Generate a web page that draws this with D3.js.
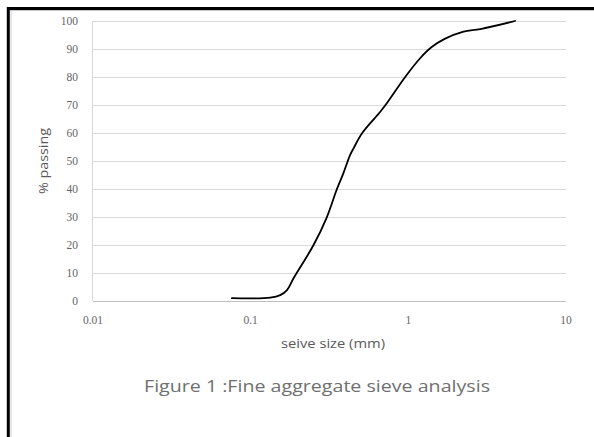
<!DOCTYPE html>
<html>
<head>
<meta charset="utf-8">
<script src="https://cdn.jsdelivr.net/npm/d3@7"></script>
<style>
  html, body { margin: 0; padding: 0; background: #fff; }
  svg { display: block; }
</style>
</head>
<body>
<div id="chart"></div>
<script>
// sieve size (mm) vs % passing
const sieveSizes = [0.076, 0.133, 0.154, 0.170, 0.187, 0.250, 0.304, 0.352, 0.387, 0.427, 0.449, 0.51, 0.662, 0.73, 0.955, 1.188, 1.40, 1.70, 2.24, 2.86, 4.75];
const passing    = [1.0,   1.2,   2.1,   3.9,   8.1,   19.9,  29.9,  39.9,  45.6,  52.1,  54.5,  60,   67.5,  70.6, 80,    86.7,  90.6, 93.6, 96.2, 97.1, 100];
const xTicks = [0.01, 0.1, 1, 10];
const yTicks = [0, 10, 20, 30, 40, 50, 60, 70, 80, 90, 100];

const W = 594, H = 437;
const plot = { left: 93, right: 566, top: 21, bottom: 301 };

const svg = d3.select("#chart").append("svg")
  .attr("width", W).attr("height", H);

// frame like the cropped document page
svg.append("line").attr("x1", 7).attr("x2", W).attr("y1", 8.5).attr("y2", 8.5)
  .attr("stroke", "#000").attr("stroke-width", 3);
svg.append("line").attr("x1", 8.3).attr("x2", 8.3).attr("y1", 7).attr("y2", H)
  .attr("stroke", "#000").attr("stroke-width", 3);
svg.append("line").attr("x1", 11).attr("x2", 11).attr("y1", 10).attr("y2", H)
  .attr("stroke", "#c7cfdc").attr("stroke-width", 1);
svg.append("line").attr("x1", 10).attr("x2", W).attr("y1", 10.5).attr("y2", 10.5)
  .attr("stroke", "#c8c8c8").attr("stroke-width", 1);

const x = d3.scaleLog().domain([0.01, 10]).range([plot.left, plot.right]);
const y = d3.scaleLinear().domain([0, 100]).range([plot.bottom, plot.top]);

// horizontal gridlines
svg.append("g").selectAll("line").data(yTicks.filter(d => d > 0)).join("line")
  .attr("x1", plot.left).attr("x2", plot.right)
  .attr("y1", d => Math.round(y(d)) + 0.5).attr("y2", d => Math.round(y(d)) + 0.5)
  .attr("stroke", "#d9d9d9").attr("stroke-width", 1);

// axis lines
svg.append("line").attr("x1", plot.left).attr("x2", plot.right)
  .attr("y1", plot.bottom + 0.5).attr("y2", plot.bottom + 0.5)
  .attr("stroke", "#bfbfbf");
svg.append("line").attr("x1", plot.left - 0.5).attr("x2", plot.left - 0.5)
  .attr("y1", plot.top).attr("y2", plot.bottom)
  .attr("stroke", "#d9d9d9");

// tick labels
const tickFont = "'Liberation Serif', 'DejaVu Serif', serif";
svg.append("g").selectAll("text").data(yTicks).join("text")
  .attr("x", 78).attr("y", d => y(d)).attr("dy", "0.35em")
  .attr("text-anchor", "end")
  .attr("font-family", tickFont).attr("font-size", 11.5)
  .attr("fill", "#666")
  .text(d => d);

svg.append("g").selectAll("text").data(xTicks).join("text")
  .attr("x", d => x(d)).attr("y", 324)
  .attr("text-anchor", "middle")
  .attr("font-family", tickFont).attr("font-size", 11.5)
  .attr("fill", "#666")
  .text(d => d3.format("~g")(d));

// axis titles
const sans = "'Open Sans', 'Noto Sans', sans-serif";
svg.append("text")
  .attr("transform", "translate(48,161) rotate(-90)")
  .attr("text-anchor", "middle")
  .attr("font-family", sans).attr("font-size", 12.5)
  .attr("fill", "#595959")
  .attr("textLength", 66).attr("lengthAdjust", "spacingAndGlyphs")
  .text("% passing");

svg.append("text")
  .attr("x", 333).attr("y", 348)
  .attr("text-anchor", "middle")
  .attr("font-family", sans).attr("font-size", 12)
  .attr("fill", "#595959")
  .attr("textLength", 104).attr("lengthAdjust", "spacingAndGlyphs")
  .text("seive size (mm)");

// curve (smoothed, as in the spreadsheet chart)
const pts = sieveSizes.map((s, i) => [x(s), y(passing[i])]);
svg.append("path")
  .attr("d", d3.line().curve(d3.curveCatmullRom.alpha(0.5))(pts))
  .attr("fill", "none")
  .attr("stroke", "#000")
  .attr("stroke-width", 1.8)
  .attr("stroke-linejoin", "round")
  .attr("stroke-linecap", "round");

// figure caption
svg.append("text")
  .attr("x", 317).attr("y", 392)
  .attr("text-anchor", "middle")
  .attr("font-family", sans).attr("font-size", 17)
  .attr("fill", "#707070")
  .attr("textLength", 346).attr("lengthAdjust", "spacingAndGlyphs")
  .text("Figure 1 :Fine aggregate sieve  analysis");
</script>
</body>
</html>
